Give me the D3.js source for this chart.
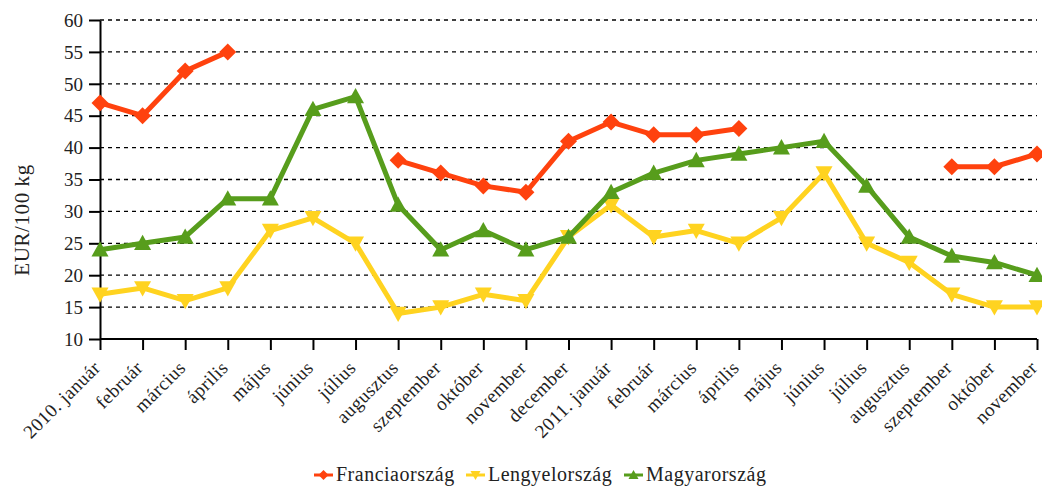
<!DOCTYPE html>
<html>
<head>
<meta charset="utf-8">
<script src="https://cdn.jsdelivr.net/npm/d3@7"></script>
<style>
  body { margin: 0; background: #fff; }
  .grid line { stroke: #000; stroke-dasharray: 4,4; stroke-width: 1.3; }
  .axis path, .axis line { stroke: #000; stroke-width: 2; }
</style>
</head>
<body>
<script>
// categories (months)
var months = ["2010. január", "február", "március", "április", "május", "június", "július",
  "augusztus", "szeptember", "október", "november", "december", "2011. január", "február",
  "március", "április", "május", "június", "július", "augusztus", "szeptember", "október", "november"];

var francia = [47, 45, 52, 55, null, null, null, 38, 36, 34, 33, 41, 44, 42, 42, 43,
  null, null, null, null, 37, 37, 39];
var lengyel = [17, 18, 16, 18, 27, 29, 25, 14, 15, 17, 16, 26, 31, 26, 27, 25, 29, 36, 25, 22, 17, 15, 15];
var magyar = [24, 25, 26, 32, 32, 46, 48, 31, 24, 27, 24, 26, 33, 36, 38, 39, 40, 41, 34, 26, 23, 22, 20];

var yTicks = [10, 15, 20, 25, 30, 35, 40, 45, 50, 55, 60];

var series = [
  {name: "Franciaország", values: francia, color: "#ff420e", symbol: "diamond"},
  {name: "Lengyelország", values: lengyel, color: "#ffd320", symbol: "down"},
  {name: "Magyarország", values: magyar, color: "#579d1c", symbol: "up"}
];

var FONT = "'Liberation Serif', 'DejaVu Serif', serif";
var W = 1042, H = 487;
var margin = {top: 20, left: 100},
    width = 1037 - margin.left,
    height = 339 - margin.top;

var svg = d3.select("body").append("svg")
    .attr("width", W)
    .attr("height", H)
    .style("font-family", FONT);
var g = svg.append("g")
    .attr("transform", "translate(" + margin.left + "," + margin.top + ")");

var x = d3.scalePoint().domain(d3.range(months.length)).range([0, width]);
var y = d3.scaleLinear().domain([10, 60]).range([height, 0]);

// gridlines
g.append("g").attr("class", "grid")
  .selectAll("line").data(yTicks.slice(1)).enter().append("line")
    .attr("x1", 0).attr("x2", width)
    .attr("y1", function(d) { return y(d); })
    .attr("y2", function(d) { return y(d); });

// y axis
var yAxis = g.append("g").attr("class", "axis")
  .call(d3.axisLeft(y).tickValues(yTicks).tickSize(11).tickSizeOuter(0).tickPadding(6));
yAxis.attr("font-family", null).attr("font-size", null);
yAxis.selectAll("text")
  .style("font-family", FONT)
  .style("font-size", "19px")
  .attr("fill", "#222")
  .attr("dy", "0.33em");

// x axis
var xAxis = g.append("g").attr("class", "axis")
  .attr("transform", "translate(0," + height + ")")
  .call(d3.axisBottom(x).tickSize(11).tickSizeOuter(0).tickFormat(function(i) { return months[i]; }));
xAxis.attr("font-family", null).attr("font-size", null);
xAxis.select(".domain").attr("d", "M0,0H" + width);
xAxis.selectAll("text")
  .style("font-family", FONT)
  .style("font-size", "19px")
  .style("letter-spacing", "0.4px")
  .style("text-anchor", "end")
  .attr("fill", "#222")
  .attr("x", 0).attr("y", 0).attr("dy", "0")
  .attr("transform", "translate(1,30) rotate(-45)");

// y label
svg.append("text")
  .attr("transform", "translate(29,220) rotate(-90)")
  .style("text-anchor", "middle")
  .style("font-family", FONT)
  .style("font-size", "21px")
  .style("letter-spacing", "0.6px")
  .attr("fill", "#222")
  .text("EUR/100 kg");

var line = d3.line()
  .defined(function(d) { return d != null; })
  .x(function(d, i) { return x(i); })
  .y(function(d) { return y(d); });

function symbolPath(type, s) {
  if (type === "diamond") return "M0," + (-s) + "L" + s + ",0L0," + s + "L" + (-s) + ",0Z";
  if (type === "up") return "M0," + (-s) + "L" + s + "," + (s * 0.8) + "L" + (-s) + "," + (s * 0.8) + "Z";
  return "M0," + s + "L" + s + "," + (-s * 0.8) + "L" + (-s) + "," + (-s * 0.8) + "Z";
}

series.forEach(function(s) {
  g.append("path")
    .datum(s.values)
    .attr("fill", "none")
    .attr("stroke", s.color)
    .attr("stroke-width", 5)
    .attr("stroke-linejoin", "round")
    .attr("d", line);
  g.selectAll(null)
    .data(s.values.map(function(v, i) { return {v: v, i: i}; }).filter(function(d) { return d.v != null; }))
    .enter().append("path")
    .attr("transform", function(d) { return "translate(" + x(d.i) + "," + y(d.v) + ")"; })
    .attr("d", symbolPath(s.symbol, 8.5))
    .attr("fill", s.color);
});

// legend
var legendX = [314, 466, 624];
var legend = svg.append("g");
series.forEach(function(s, i) {
  var lg = legend.append("g").attr("transform", "translate(" + legendX[i] + ",475)");
  lg.append("line").attr("x1", 0).attr("x2", 19).attr("stroke", s.color).attr("stroke-width", 3);
  lg.append("path").attr("transform", "translate(9.5,0)").attr("d", symbolPath(s.symbol, 5)).attr("fill", s.color);
  lg.append("text").attr("x", 22).attr("dy", "0.32em")
    .style("font-family", FONT).style("font-size", "20px").style("letter-spacing", "0.5px")
    .attr("fill", "#222")
    .text(s.name);
});
</script>
</body>
</html>
